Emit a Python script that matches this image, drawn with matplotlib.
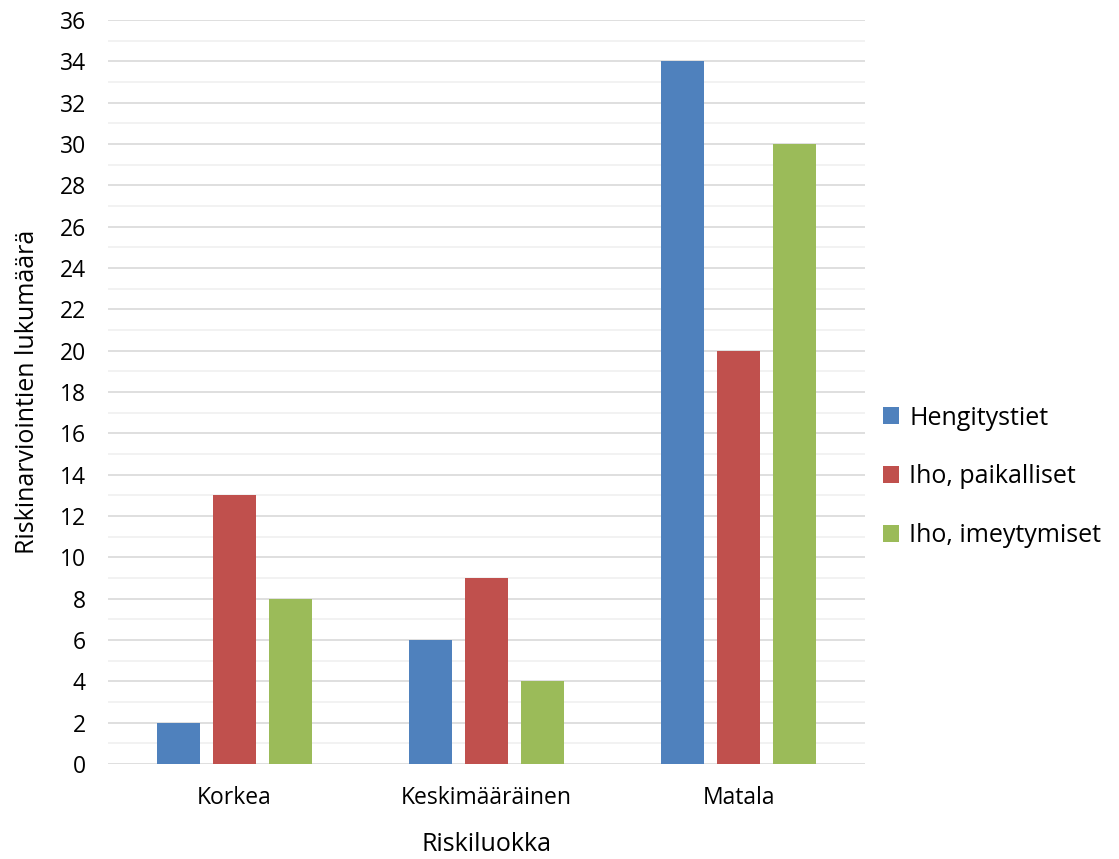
import numpy as np
import matplotlib.pyplot as plt
from matplotlib.ticker import MultipleLocator

# ---------------- Data ----------------
categories = ['Korkea', 'Keskimääräinen', 'Matala']
series_names = ['Hengitystiet', 'Iho, paikalliset', 'Iho, imeytymiset']
hengitystiet = [2, 6, 34]
iho_paikalliset = [13, 9, 20]
iho_imeytymiset = [8, 4, 30]
colors = ['#4f81bd', '#c0504d', '#9bbb59']

plt.rcParams['font.family'] = ['Open Sans', 'DejaVu Sans']

# ---------------- Plot ----------------
fig = plt.figure(figsize=(11.19, 8.59), dpi=100)
ax = fig.add_axes([0.0965, 0.1106, 0.6765, 0.866])

x = np.arange(len(categories))
width = 0.17
step = 0.222
for i, (vals, name) in enumerate(zip([hengitystiet, iho_paikalliset, iho_imeytymiset], series_names)):
    ax.bar(x + (i - 1) * step, vals, width, color=colors[i], label=name, zorder=3)

ax.set_xlim(-0.5, 2.5)
ax.set_ylim(0, 36)
ax.yaxis.set_major_locator(MultipleLocator(2))
ax.yaxis.set_minor_locator(MultipleLocator(1))
ax.grid(axis='y', which='major', color='#d9d9d9', linewidth=1.2, zorder=0)
ax.grid(axis='y', which='minor', color='#f0f0f0', linewidth=1.2, zorder=0)
for s in ax.spines.values():
    s.set_visible(False)
ax.tick_params(axis='both', which='both', length=0, labelsize=16.5)
ax.tick_params(axis='x', pad=16)
ax.tick_params(axis='y', pad=16)
ax.set_xticks(x)
ax.set_xticklabels(categories)

ax.set_xlabel('Riskiluokka', fontsize=18, labelpad=16)
ax.set_ylabel('Riskinarviointien lukumäärä', fontsize=18, labelpad=14)

ax.legend(loc='center left', bbox_to_anchor=(0.994, 0.386), frameon=False,
          fontsize=18, handlelength=0.65, handleheight=0.65, handletextpad=0.4,
          labelspacing=1.35)

fig.savefig('out.png', dpi=100)
